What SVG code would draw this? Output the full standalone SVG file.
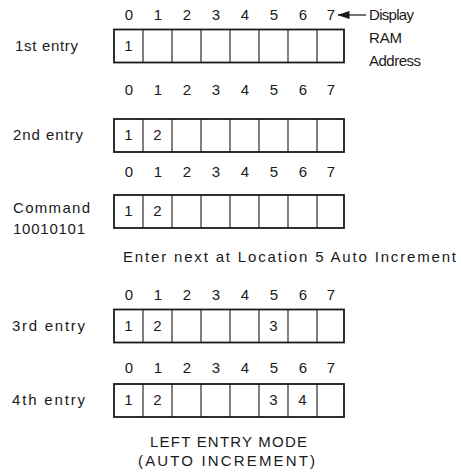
<svg xmlns="http://www.w3.org/2000/svg" width="461" height="474" viewBox="0 0 461 474">
<style>
text{font-family:"Liberation Sans",Arial,sans-serif;font-size:15px;fill:#1a1a1a}
.d{text-anchor:middle}
.c{text-anchor:middle}
.outer{fill:#fff;stroke:#1a1a1a;stroke-width:1.8}
.div{stroke:#1a1a1a;stroke-width:1.1}
</style>
<defs>
<marker id="ah" viewBox="0 0 12 8" refX="11.5" refY="4" markerWidth="12" markerHeight="8" markerUnits="userSpaceOnUse" orient="auto" preserveAspectRatio="none">
<path d="M0,0 L12,4 L0,8 Z" fill="#1a1a1a"/>
</marker>
<g id="cells">
<rect class="outer" x="114" y="0" width="230" height="33"/>
<path class="div" d="M143,0V33M172,0V33M201,0V33M230,0V33M259,0V33M288,0V33M317,0V33"/>
</g>
<g id="hdr">
<text class="d" x="129" y="0">0</text><text class="d" x="158" y="0">1</text><text class="d" x="187" y="0">2</text><text class="d" x="216" y="0">3</text><text class="d" x="245" y="0">4</text><text class="d" x="274" y="0">5</text><text class="d" x="303" y="0">6</text><text class="d" x="331" y="0">7</text>
</g>
</defs>

<g id="connectors">
<line x1="366" y1="15" x2="338" y2="15" stroke="#1a1a1a" stroke-width="1.2" marker-end="url(#ah)"/>
</g>

<g id="row1">
<use href="#hdr" y="20"/>
<use href="#cells" y="29.5"/>
<text x="15" y="51" textLength="63" lengthAdjust="spacing">1st entry</text>
<text class="c" x="128.5" y="51">1</text>
</g>

<g id="ramlabel">
<text x="369" y="20" textLength="45" lengthAdjust="spacing">Display</text>
<text x="369" y="43" textLength="33" lengthAdjust="spacing">RAM</text>
<text x="369" y="66" textLength="52" lengthAdjust="spacing">Address</text>
</g>

<g id="row2">
<use href="#hdr" y="95"/>
<use href="#cells" y="119"/>
<text x="13" y="140" textLength="70" lengthAdjust="spacing">2nd entry</text>
<text class="c" x="128.5" y="140">1</text>
<text class="c" x="157.5" y="140">2</text>
</g>

<g id="row3">
<use href="#hdr" y="177"/>
<use href="#cells" y="195"/>
<text x="13" y="213" textLength="77" lengthAdjust="spacing">Command</text>
<text x="13" y="234" textLength="72" lengthAdjust="spacing">10010101</text>
<text class="c" x="128.5" y="216">1</text>
<text class="c" x="157.5" y="216">2</text>
</g>

<text id="note" x="123" y="262" textLength="333" lengthAdjust="spacing">Enter next at Location 5 Auto Increment</text>

<g id="row4">
<use href="#hdr" y="300"/>
<use href="#cells" y="309.5"/>
<text x="12" y="331" textLength="73" lengthAdjust="spacing">3rd entry</text>
<text class="c" x="128.5" y="331">1</text>
<text class="c" x="157.5" y="331">2</text>
<text class="c" x="273.5" y="331">3</text>
</g>

<g id="row5">
<use href="#hdr" y="373"/>
<use href="#cells" y="384"/>
<text x="12" y="405" textLength="73" lengthAdjust="spacing">4th entry</text>
<text class="c" x="128.5" y="405">1</text>
<text class="c" x="157.5" y="405">2</text>
<text class="c" x="273.5" y="405">3</text>
<text class="c" x="302.5" y="405">4</text>
</g>

<g id="caption">
<text class="c" x="228.5" y="447" textLength="157" lengthAdjust="spacing">LEFT ENTRY MODE</text>
<text class="c" x="226.5" y="466" textLength="177" lengthAdjust="spacing">(AUTO INCREMENT)</text>
</g>
</svg>
